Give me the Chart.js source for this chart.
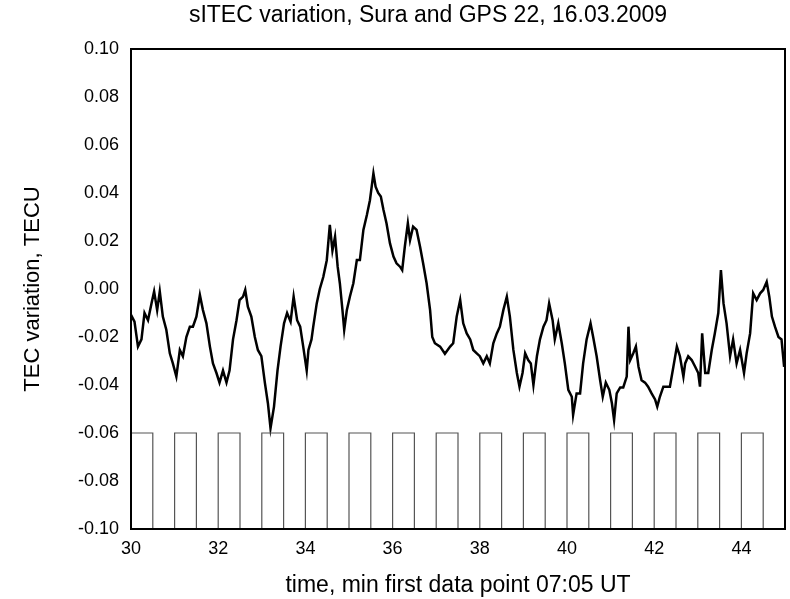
<!DOCTYPE html>
<html>
<head>
<meta charset="utf-8">
<script src="https://cdn.jsdelivr.net/npm/chart.js@4"></script>
<style>
  html, body { margin: 0; padding: 0; background: #fff; }
  #wrap { width: 790px; height: 599px; }
</style>
</head>
<body>
<div id="wrap"><canvas id="tecChart" width="790" height="599"></canvas></div>
<script>
// time, minutes after first data point
var timeMin = [
  30.00, 30.08, 30.16, 30.24, 30.31, 30.39, 30.47, 30.53, 30.60, 30.66,
  30.73, 30.81, 30.89, 30.96, 31.04, 31.12, 31.19, 31.27, 31.35, 31.42,
  31.50, 31.58, 31.65, 31.73, 31.81, 31.88, 31.96, 32.03, 32.11, 32.19,
  32.26, 32.34, 32.42, 32.49, 32.57, 32.62, 32.68, 32.76, 32.84, 32.91,
  32.99, 33.07, 33.14, 33.20, 33.28, 33.36, 33.43, 33.51, 33.58, 33.66,
  33.73, 33.81, 33.88, 33.95, 34.03, 34.07, 34.14, 34.18, 34.26, 34.33,
  34.41, 34.49, 34.53, 34.56, 34.62, 34.68, 34.74, 34.79, 34.85, 34.89,
  34.95, 35.02, 35.10, 35.18, 35.25, 35.33, 35.41, 35.48, 35.56, 35.61,
  35.67, 35.73, 35.79, 35.86, 35.94, 36.02, 36.09, 36.17, 36.22, 36.28,
  36.35, 36.40, 36.47, 36.55, 36.63, 36.70, 36.78, 36.86, 36.91, 36.97,
  37.09, 37.20, 37.32, 37.39, 37.47, 37.55, 37.62, 37.70, 37.78, 37.85,
  37.93, 38.00, 38.08, 38.16, 38.23, 38.31, 38.39, 38.46, 38.54, 38.62,
  38.69, 38.77, 38.85, 38.91, 38.98, 39.04, 39.11, 39.17, 39.23, 39.31,
  39.38, 39.46, 39.53, 39.59, 39.67, 39.72, 39.80, 39.88, 39.95, 40.03,
  40.11, 40.14, 40.22, 40.30, 40.37, 40.45, 40.54, 40.60, 40.68, 40.76,
  40.82, 40.89, 40.97, 41.03, 41.08, 41.14, 41.22, 41.29, 41.37, 41.41,
  41.45, 41.52, 41.58, 41.64, 41.71, 41.79, 41.86, 41.94, 42.02, 42.07,
  42.13, 42.21, 42.29, 42.36, 42.44, 42.52, 42.59, 42.67, 42.71, 42.78,
  42.86, 42.94, 43.01, 43.05, 43.10, 43.17, 43.24, 43.32, 43.39, 43.47,
  43.53, 43.59, 43.66, 43.74, 43.81, 43.89, 43.97, 44.06, 44.12, 44.20,
  44.27, 44.35, 44.43, 44.50, 44.58, 44.64, 44.70, 44.77, 44.85, 44.92,
  44.98
];

// slant TEC variation, TECU
var tecu = [
  -0.0108, -0.0136, -0.0240, -0.0210, -0.0100, -0.0130, -0.0060, -0.0010, -0.0088, -0.0010,
  -0.0115, -0.0170, -0.0268, -0.0310, -0.0365, -0.0254, -0.0280, -0.0200, -0.0157, -0.0157,
  -0.0115, -0.0025, -0.0088, -0.0143, -0.0240, -0.0310, -0.0350, -0.0390, -0.0340, -0.0390,
  -0.0340, -0.0210, -0.0130, -0.0046, -0.0032, -0.0004, -0.0074, -0.0115, -0.0200, -0.0254,
  -0.0280, -0.0390, -0.0476, -0.0580, -0.0490, -0.0340, -0.0240, -0.0143, -0.0100, -0.0136,
  -0.0032, -0.0130, -0.0157, -0.0240, -0.0340, -0.0254, -0.0210, -0.0157, -0.0060, 0.0000,
  0.0050, 0.0120, 0.0204, 0.0267, 0.0160, 0.0218, 0.0093, 0.0024, -0.0088, -0.0170,
  -0.0088, -0.0032, 0.0024, 0.0121, 0.0121, 0.0246, 0.0308, 0.0370, 0.0482, 0.0426,
  0.0400, 0.0385, 0.0330, 0.0274, 0.0190, 0.0135, 0.0107, 0.0093, 0.0079, 0.0176,
  0.0274, 0.0204, 0.0260, 0.0246, 0.0176, 0.0107, 0.0024, -0.0088, -0.0200, -0.0226,
  -0.0240, -0.0270, -0.0240, -0.0226, -0.0115, -0.0046, -0.0143, -0.0185, -0.0210, -0.0254,
  -0.0268, -0.0280, -0.0310, -0.0280, -0.0310, -0.0226, -0.0185, -0.0157, -0.0088, -0.0032,
  -0.0115, -0.0254, -0.0350, -0.0407, -0.0350, -0.0268, -0.0296, -0.0310, -0.0400, -0.0280,
  -0.0210, -0.0157, -0.0130, -0.0060, -0.0130, -0.0210, -0.0143, -0.0226, -0.0310, -0.0420,
  -0.0449, -0.0525, -0.0435, -0.0435, -0.0310, -0.0210, -0.0143, -0.0200, -0.0280, -0.0380,
  -0.0449, -0.0390, -0.0420, -0.0476, -0.0546, -0.0435, -0.0410, -0.0410, -0.0365, -0.0157,
  -0.0296, -0.0268, -0.0240, -0.0324, -0.0380, -0.0390, -0.0407, -0.0435, -0.0460, -0.0490,
  -0.0449, -0.0407, -0.0407, -0.0407, -0.0324, -0.0240, -0.0280, -0.0365, -0.0310, -0.0280,
  -0.0296, -0.0324, -0.0350, -0.0407, -0.0185, -0.0350, -0.0350, -0.0254, -0.0185, -0.0100,
  0.0079, -0.0060, -0.0143, -0.0280, -0.0210, -0.0310, -0.0254, -0.0350, -0.0268, -0.0185,
  -0.0018, -0.0046, -0.0018, -0.0004, 0.0030, -0.0032, -0.0115, -0.0157, -0.0200, -0.0210,
  -0.0324
];

// heater on / off times (min) and the marker levels
var heaterOn  = [30, 31, 32, 33, 34, 35, 36, 37, 38, 39, 40, 41, 42, 43, 44];
var heaterOff = [30.5, 31.5, 32.5, 33.5, 34.5, 35.5, 36.5, 37.5, 38.5, 39.5, 40.5, 41.5, 42.5, 43.5, 44.5];
var markHigh = -0.06;
var markLow = -0.10;

var xTicks = [30, 32, 34, 36, 38, 40, 42, 44];

var chartTitle = 'sITEC variation, Sura and GPS 22, 16.03.2009';

var tecPoints = timeMin.map(function (t, i) { return { x: t, y: tecu[i] }; });

var heaterPoints = [];
heaterOn.forEach(function (t, i) {
  heaterPoints.push({ x: t, y: markLow });
  heaterPoints.push({ x: t, y: markHigh });
  heaterPoints.push({ x: heaterOff[i], y: markHigh });
  heaterPoints.push({ x: heaterOff[i], y: markLow });
});
heaterPoints.push({ x: 45, y: markLow });

var font = "'Liberation Sans', Arial, sans-serif";

// box around the plot area + title line above it
var frame = {
  id: 'frame',
  afterDatasetsDraw: function (chart) {
    var a = chart.chartArea, ctx = chart.ctx;
    ctx.save();
    ctx.strokeStyle = '#000';
    ctx.lineWidth = 2;
    ctx.strokeRect(a.left, a.top, a.right - a.left, a.bottom - a.top);
    ctx.fillStyle = '#000';
    ctx.font = '23px ' + font;
    ctx.textAlign = 'center';
    ctx.textBaseline = 'middle';
    ctx.fillText(chartTitle, 428, 16);
    ctx.restore();
  }
};

new Chart(document.getElementById('tecChart'), {
  type: 'line',
  data: {
    datasets: [{
      data: heaterPoints,
      borderColor: '#555',
      borderWidth: 1.2,
      pointRadius: 0,
      tension: 0
    }, {
      data: tecPoints,
      borderColor: '#000',
      borderWidth: 2.5,
      pointRadius: 0,
      tension: 0
    }]
  },
  options: {
    responsive: false,
    animation: false,
    layout: { padding: { top: 49, right: 5, bottom: 0, left: 0 } },
    plugins: {
      legend: { display: false },
      tooltip: { enabled: false },
      title: { display: false }
    },
    scales: {
      x: {
        type: 'linear',
        min: 30,
        max: 45,
        afterFit: function (s) { s.height = 70; },
        afterBuildTicks: function (s) { s.ticks = xTicks.map(function (v) { return { value: v }; }); },
        grid: { display: false, drawTicks: false },
        border: { display: false },
        ticks: {
          color: '#000',
          padding: 9,
          maxRotation: 0,
          font: { family: font, size: 18 }
        },
        title: {
          display: true,
          text: 'time, min first data point 07:05 UT',
          color: '#000',
          font: { family: font, size: 23 },
          padding: { top: 0, bottom: 0 }
        }
      },
      y: {
        min: -0.10,
        max: 0.10,
        afterFit: function (s) { s.width = 131; },
        grid: { display: false, drawTicks: false },
        border: { display: false },
        ticks: {
          color: '#000',
          padding: 12,
          stepSize: 0.02,
          font: { family: font, size: 18 },
          callback: function (v) { return v.toFixed(2); }
        },
        title: {
          display: true,
          text: 'TEC variation, TECU',
          color: '#000',
          font: { family: font, size: 22 },
          padding: { top: 20, bottom: 0 }
        }
      }
    }
  },
  plugins: [frame]
});
</script>
</body>
</html>
